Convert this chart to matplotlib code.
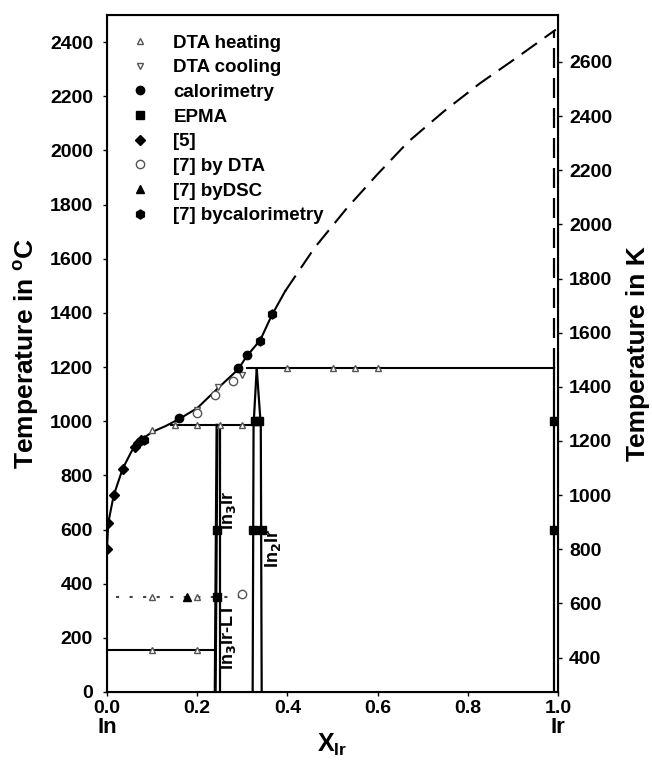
import matplotlib
matplotlib.use("Agg")
import matplotlib.pyplot as plt

plt.rcParams['font.family'] = ['Liberation Sans', 'DejaVu Sans']
plt.rcParams['font.weight'] = 'bold'
plt.rcParams['axes.labelweight'] = 'bold'

# ---- liquidus (solid: measured part, dashed: extrapolated to Ir melting point)
liq_solid_x = [0.0, 0.003, 0.015, 0.035, 0.055, 0.075, 0.10, 0.13, 0.16, 0.20, 0.25, 0.29, 0.31, 0.34, 0.365, 0.395]
liq_solid_t = [527, 625, 726, 825, 890, 930, 960, 982, 1008, 1048, 1128, 1190, 1240, 1300, 1390, 1480]
liq_dash_x = [0.395, 0.46, 0.531, 0.598, 0.668, 0.746, 0.827, 0.901, 0.995]
liq_dash_t = [1480, 1640, 1785, 1909, 2032, 2143, 2248, 2334, 2446]

# ---- invariant temperatures and their composition ranges
peri_hi_t = 1195
peri_hi_x = [0.31, 0.99]
peri_lo_t = 985
peri_lo_x = [0.143, 0.333]
eut_t = 155
eut_x = [0.0, 0.24]
lt_t = 350
lt_x = [0.02, 0.30]

# ---- intermetallic phase boundaries
in3ir_left_x = [0.240, 0.244]
in3ir_left_t = [0, 985]
in3ir_right_x = [0.250, 0.250]
in3ir_right_t = [0, 985]
in2ir_left_x = [0.323, 0.325, 0.332]
in2ir_left_t = [0, 985, 1195]
in2ir_right_x = [0.343, 0.341, 0.332]
in2ir_right_t = [0, 985, 1195]
ir_solvus_x = [0.99, 0.99]
ir_solvus_t = [0, 1195]
ir_solvus_dash_x = [0.99, 0.99]
ir_solvus_dash_t = [1195, 2446]

# ---- experimental points
dta_heat_x = [0.10, 0.20, 0.10, 0.20, 0.10, 0.151, 0.20, 0.25, 0.30, 0.40, 0.50, 0.55, 0.60]
dta_heat_t = [155, 155, 350, 350, 967, 985, 985, 985, 985, 1195, 1195, 1195, 1195]
dta_cool_x = [0.20, 0.247, 0.30]
dta_cool_t = [1040, 1125, 1172]
calor_x = [0.16, 0.291, 0.31]
calor_t = [1012, 1195, 1244]
epma_x = [0.243, 0.323, 0.343, 0.243, 0.328, 0.338, 0.99, 0.99]
epma_t = [600, 600, 600, 350, 1000, 1000, 600, 1000]
ref5_x = [0.0, 0.003, 0.015, 0.035, 0.063, 0.068, 0.075]
ref5_t = [527, 625, 726, 825, 905, 920, 930]
ref7_dta_x = [0.20, 0.24, 0.28, 0.30]
ref7_dta_t = [1030, 1095, 1150, 362]
ref7_dsc_x = [0.178]
ref7_dsc_t = [352]
ref7_cal_x = [0.082, 0.339, 0.365]
ref7_cal_t = [932, 1297, 1396]

fig = plt.figure(figsize=(6.52, 7.61), dpi=100)
ax = fig.add_axes([0.164, 0.0907, 0.692, 0.8896])

lw = 1.5
ax.plot(liq_solid_x, liq_solid_t, color='black', lw=lw, zorder=2)
ax.plot(liq_dash_x, liq_dash_t, color='black', lw=lw, dashes=(9, 4.5), zorder=2)
ax.plot(peri_hi_x, [peri_hi_t] * 2, color='black', lw=lw, zorder=2)
ax.plot(peri_lo_x, [peri_lo_t] * 2, color='black', lw=lw, zorder=2)
ax.plot(eut_x, [eut_t] * 2, color='black', lw=lw, zorder=2)
ax.plot(lt_x, [lt_t] * 2, color='#444444', lw=1.5, dashes=(1.5, 5), zorder=2)
ax.plot(in3ir_left_x, in3ir_left_t, color='black', lw=2.2, zorder=2)
ax.plot(in3ir_right_x, in3ir_right_t, color='black', lw=1.6, zorder=2)
ax.plot(in2ir_left_x, in2ir_left_t, color='black', lw=1.6, zorder=2)
ax.plot(in2ir_right_x, in2ir_right_t, color='black', lw=1.6, zorder=2)
ax.plot(ir_solvus_x, ir_solvus_t, color='black', lw=1.6, zorder=2)
ax.plot(ir_solvus_dash_x, ir_solvus_dash_t, color='black', lw=1.6, dashes=(9, 4.5), zorder=2)

gray = '#555555'
ax.plot(dta_heat_x, dta_heat_t, ls='none', marker='^', ms=5, mfc='white', mec=gray, mew=1.0, label='DTA heating', zorder=3)
ax.plot(dta_cool_x, dta_cool_t, ls='none', marker='v', ms=5, mfc='white', mec=gray, mew=1.0, label='DTA cooling', zorder=3)
ax.plot(calor_x, calor_t, ls='none', marker='o', ms=6, color='black', label='calorimetry', zorder=3)
ax.plot(epma_x, epma_t, ls='none', marker='s', ms=6, color='black', label='EPMA', zorder=3)
ax.plot(ref5_x, ref5_t, ls='none', marker='D', ms=5.5, color='black', label='[5]', zorder=3)
ax.plot(ref7_dta_x, ref7_dta_t, ls='none', marker='o', ms=6, mfc='white', mec=gray, mew=1.0, label='[7] by DTA', zorder=3)
ax.plot(ref7_dsc_x, ref7_dsc_t, ls='none', marker='^', ms=6, color='black', label='[7] byDSC', zorder=3)
ax.plot(ref7_cal_x, ref7_cal_t, ls='none', marker='h', ms=6.5, color='black', label='[7] bycalorimetry', zorder=3)

ax.set_xlim(0, 1)
ax.set_ylim(0, 2500)
ax.set_xticks([0.0, 0.2, 0.4, 0.6, 0.8, 1.0])
ax.set_xticklabels(['0.0', '0.2', '0.4', '0.6', '0.8', '1.0'])
ax.set_yticks(range(0, 2401, 200))
ax.tick_params(axis='x', labelsize=14, direction='out', length=3, width=1, pad=3)
ax.tick_params(axis='y', labelsize=14, direction='out', length=3, width=1, pad=7)
for s in ax.spines.values():
    s.set_linewidth(1.5)
ax.set_ylabel('Temperature in $\\mathregular{^oC}$', fontsize=19, labelpad=6)

ax2 = ax.twinx()
ax2.set_ylim(0 + 273.15, 2500 + 273.15)
ax2.set_yticks(range(400, 2601, 200))
ax2.tick_params(axis='y', labelsize=14, direction='out', length=3, width=1, pad=5)
ax2.set_ylabel('Temperature in K', fontsize=19, labelpad=10)

# element names under the axis ends and the composition label
xt = ax.get_xaxis_transform()
ax.text(0.0, -0.053, 'In', transform=xt, ha='center', va='center', fontsize=16)
ax.text(1.0, -0.053, 'Ir', transform=xt, ha='center', va='center', fontsize=16)
ax.text(0.5, -0.078, 'X$_{\\mathregular{Ir}}$', transform=ax.transAxes, ha='center', va='center', fontsize=18)

# phase labels
ax.text(0.268, 670, 'In$_3$Ir', rotation=90, ha='center', va='center', fontsize=13)
ax.text(0.268, 205, 'In$_3$Ir-LT', rotation=90, ha='center', va='center', fontsize=13)
ax.text(0.369, 530, 'In$_2$Ir', rotation=90, ha='center', va='center', fontsize=13)

leg = ax.legend(loc='upper left', bbox_to_anchor=(0.035, 0.982), frameon=False, fontsize=13.5,
                handlelength=1.0, handletextpad=1.3, labelspacing=0.4, borderaxespad=0)

fig.savefig('out.png', dpi=100)
